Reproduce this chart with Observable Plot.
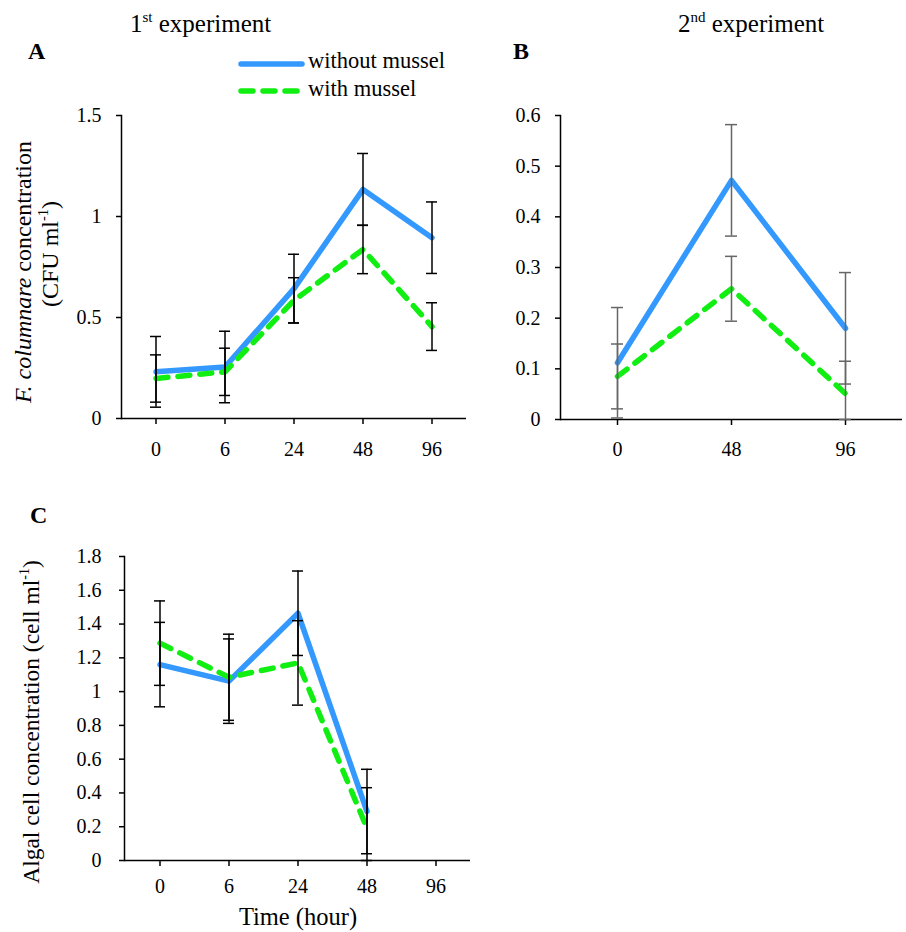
<!DOCTYPE html>
<html><head><meta charset="utf-8">
<script src="https://cdn.jsdelivr.net/npm/d3@7"></script>
<script src="https://cdn.jsdelivr.net/npm/@observablehq/plot@0.6"></script>
<style>
body{margin:0;background:#fff;font-family:"Liberation Serif","Times New Roman",serif;}
#root{position:relative;width:906px;height:932px;overflow:hidden;background:#fff;}
.t{position:absolute;white-space:nowrap;color:#000;line-height:1;font-family:"Liberation Serif","Times New Roman",serif;}
.c{transform:translate(-50%,-50%);}
.r{transform:translate(-50%,-50%) rotate(-90deg);}
.plot{position:absolute;}
sup{font-size:0.6em;vertical-align:0.7em;line-height:0;}
</style></head><body><div id="root"></div>
<script>
// ---------- data ----------
const timesA = ["0", "6", "24", "48", "96"];
const withoutA = [0.231, 0.255, 0.643, 1.134, 0.895];
const withoutAErr = [0.175, 0.177, 0.170, 0.178, 0.177];
const withA = [0.198, 0.231, 0.585, 0.837, 0.455];
const withAErr = [0.117, 0.117, 0.112, 0.120, 0.118];
const ticksA = [0, 0.5, 1, 1.5];

const timesB = ["0", "48", "96"];
const withoutB = [0.112, 0.472, 0.180];
const withoutBErr = [0.109, 0.110, 0.110];
const withB = [0.085, 0.258, 0.051];
const withBErr = [0.064, 0.064, 0.064];
const ticksB = [0, 0.1, 0.2, 0.3, 0.4, 0.5, 0.6];

const timesC = ["0", "6", "24", "48", "96"];
const withoutC = [1.160, 1.062, 1.464, 0.290];
const withoutCErr = [0.250, 0.250, 0.250, 0.250];
const withC = [1.287, 1.085, 1.170, 0.191];
const withCErr = [0.250, 0.255, 0.250, 0.240];
const ticksC = [0, 0.2, 0.4, 0.6, 0.8, 1, 1.2, 1.4, 1.6, 1.8];

const seriesNames = ["without mussel", "with mussel"];
const colorWithout = "#3399ff";
const colorWith = "#11ee11";

// ---------- helpers ----------
function rows(times, vals, errs, series) {
  return vals.map((v, i) => ({t: times[i], v, lo: Math.max(0, v - errs[i]), hi: v + errs[i], series}));
}

function panel(o) {
  const rW = rows(o.times, o.without, o.withoutErr, seriesNames[0]);
  const rM = rows(o.times, o.with, o.withErr, seriesNames[1]);
  const all = rW.concat(rM);
  return Plot.plot({
    width: o.width, height: o.height,
    marginLeft: o.ml, marginRight: o.mr, marginTop: o.mt, marginBottom: o.mb,
    style: {fontFamily: '"Liberation Serif","Times New Roman",serif', fontSize: "20px", color: "#000", background: "transparent", overflow: "visible"},
    x: {type: "band", domain: o.times, padding: 0, label: null},
    y: {domain: [o.ticks[0], o.ticks[o.ticks.length - 1]], label: null},
    marks: [
      Plot.axisY({ticks: o.ticks, tickFormat: d => `${d}`, tickSize: 5, tickPadding: o.ytp, fontSize: 20, strokeWidth: 1.5, label: null}),
      Plot.axisX({tickSize: 6, tickPadding: o.xtp, fontSize: 20, strokeWidth: 1.5, label: null}),
      Plot.frame({anchor: "left", strokeWidth: 1.5}),
      Plot.ruleY([0], {strokeWidth: 1.5}),
      Plot.line(rW, {x: "t", y: "v", stroke: colorWithout, strokeWidth: 5.5, strokeLinecap: "round", strokeLinejoin: "round"}),
      Plot.line(rM, {x: "t", y: "v", stroke: colorWith, strokeWidth: 5.5, strokeDasharray: "12,10", strokeLinecap: "round", strokeLinejoin: "round"}),
      Plot.ruleX(all, {x: "t", y1: "lo", y2: "hi", stroke: o.errColor, strokeWidth: 1.5}),
      Plot.tickY(all, {x: "t", y: "hi", stroke: o.errColor, strokeWidth: 1.5, insetLeft: o.cap, insetRight: o.cap}),
      Plot.tickY(all, {x: "t", y: "lo", stroke: o.errColor, strokeWidth: 1.5, insetLeft: o.cap, insetRight: o.cap})
    ]
  });
}

const root = document.getElementById("root");
function place(el, left, top) {
  el.classList.add("plot");
  el.style.left = left + "px";
  el.style.top = top + "px";
  root.appendChild(el);
}
function text(html, left, top, size, extra = "", cls = "t") {
  const d = document.createElement("div");
  d.className = cls;
  d.innerHTML = html;
  d.style.left = left + "px";
  d.style.top = top + "px";
  d.style.fontSize = size + "px";
  if (extra) d.style.cssText += extra;
  root.appendChild(d);
  return d;
}

// ---------- panels ----------
place(panel({times: timesA, without: withoutA, withoutErr: withoutAErr, with: withA, withErr: withAErr, ticks: ticksA,
  width: 476, height: 370, ml: 121, mr: 10, mt: 20, mb: 47, ytp: 15, xtp: 17, cap: 29, errColor: "#000"}), 0, 95);

place(panel({times: timesB, without: withoutB, withoutErr: withoutBErr, with: withB, withErr: withBErr, ticks: ticksB,
  width: 416, height: 370, ml: 70, mr: 4, mt: 20, mb: 46, ytp: 15, xtp: 16, cap: 51, errColor: "#666"}), 490, 95);

place(panel({times: timesC, without: withoutC, withoutErr: withoutCErr, with: withC, withErr: withCErr, ticks: ticksC,
  width: 480, height: 360, ml: 124, mr: 10, mt: 20, mb: 36, ytp: 18, xtp: 12, cap: 29, errColor: "#000"}), 0, 536);

// ---------- texts ----------
text("1<sup>st</sup> experiment", 130, 11, 25);
text("2<sup>nd</sup> experiment", 678, 11, 25);
text("A", 28, 39, 24, "font-weight:bold;");
text("B", 513, 39, 24, "font-weight:bold;");
text("C", 30, 503, 24, "font-weight:bold;");

// legend
const leg = d3.create("svg").attr("width", 80).attr("height", 50)
  .style("position", "absolute").style("left", "232px").style("top", "52px");
leg.append("line").attr("x1", 9).attr("x2", 70).attr("y1", 12).attr("y2", 12)
  .attr("stroke", colorWithout).attr("stroke-width", 5.5).attr("stroke-linecap", "round");
leg.append("line").attr("x1", 9).attr("x2", 70).attr("y1", 39).attr("y2", 39)
  .attr("stroke", colorWith).attr("stroke-width", 5.5).attr("stroke-dasharray", "12,10").attr("stroke-linecap", "round");
root.appendChild(leg.node());
text(seriesNames[0], 308, 50, 22.5);
text(seriesNames[1], 308, 78, 22.5);

// axis titles
text("<i>F. columnare</i> concentration", 23, 272, 24, "", "t r");
text("(CFU ml<sup>-1</sup>)", 50, 254, 24, "", "t r");
text("Algal cell concentration (cell ml<sup>-1</sup>)", 32, 722, 23.5, "", "t r");
text("Time (hour)", 298, 917, 24.5, "", "t c");
</script>
</body></html>
